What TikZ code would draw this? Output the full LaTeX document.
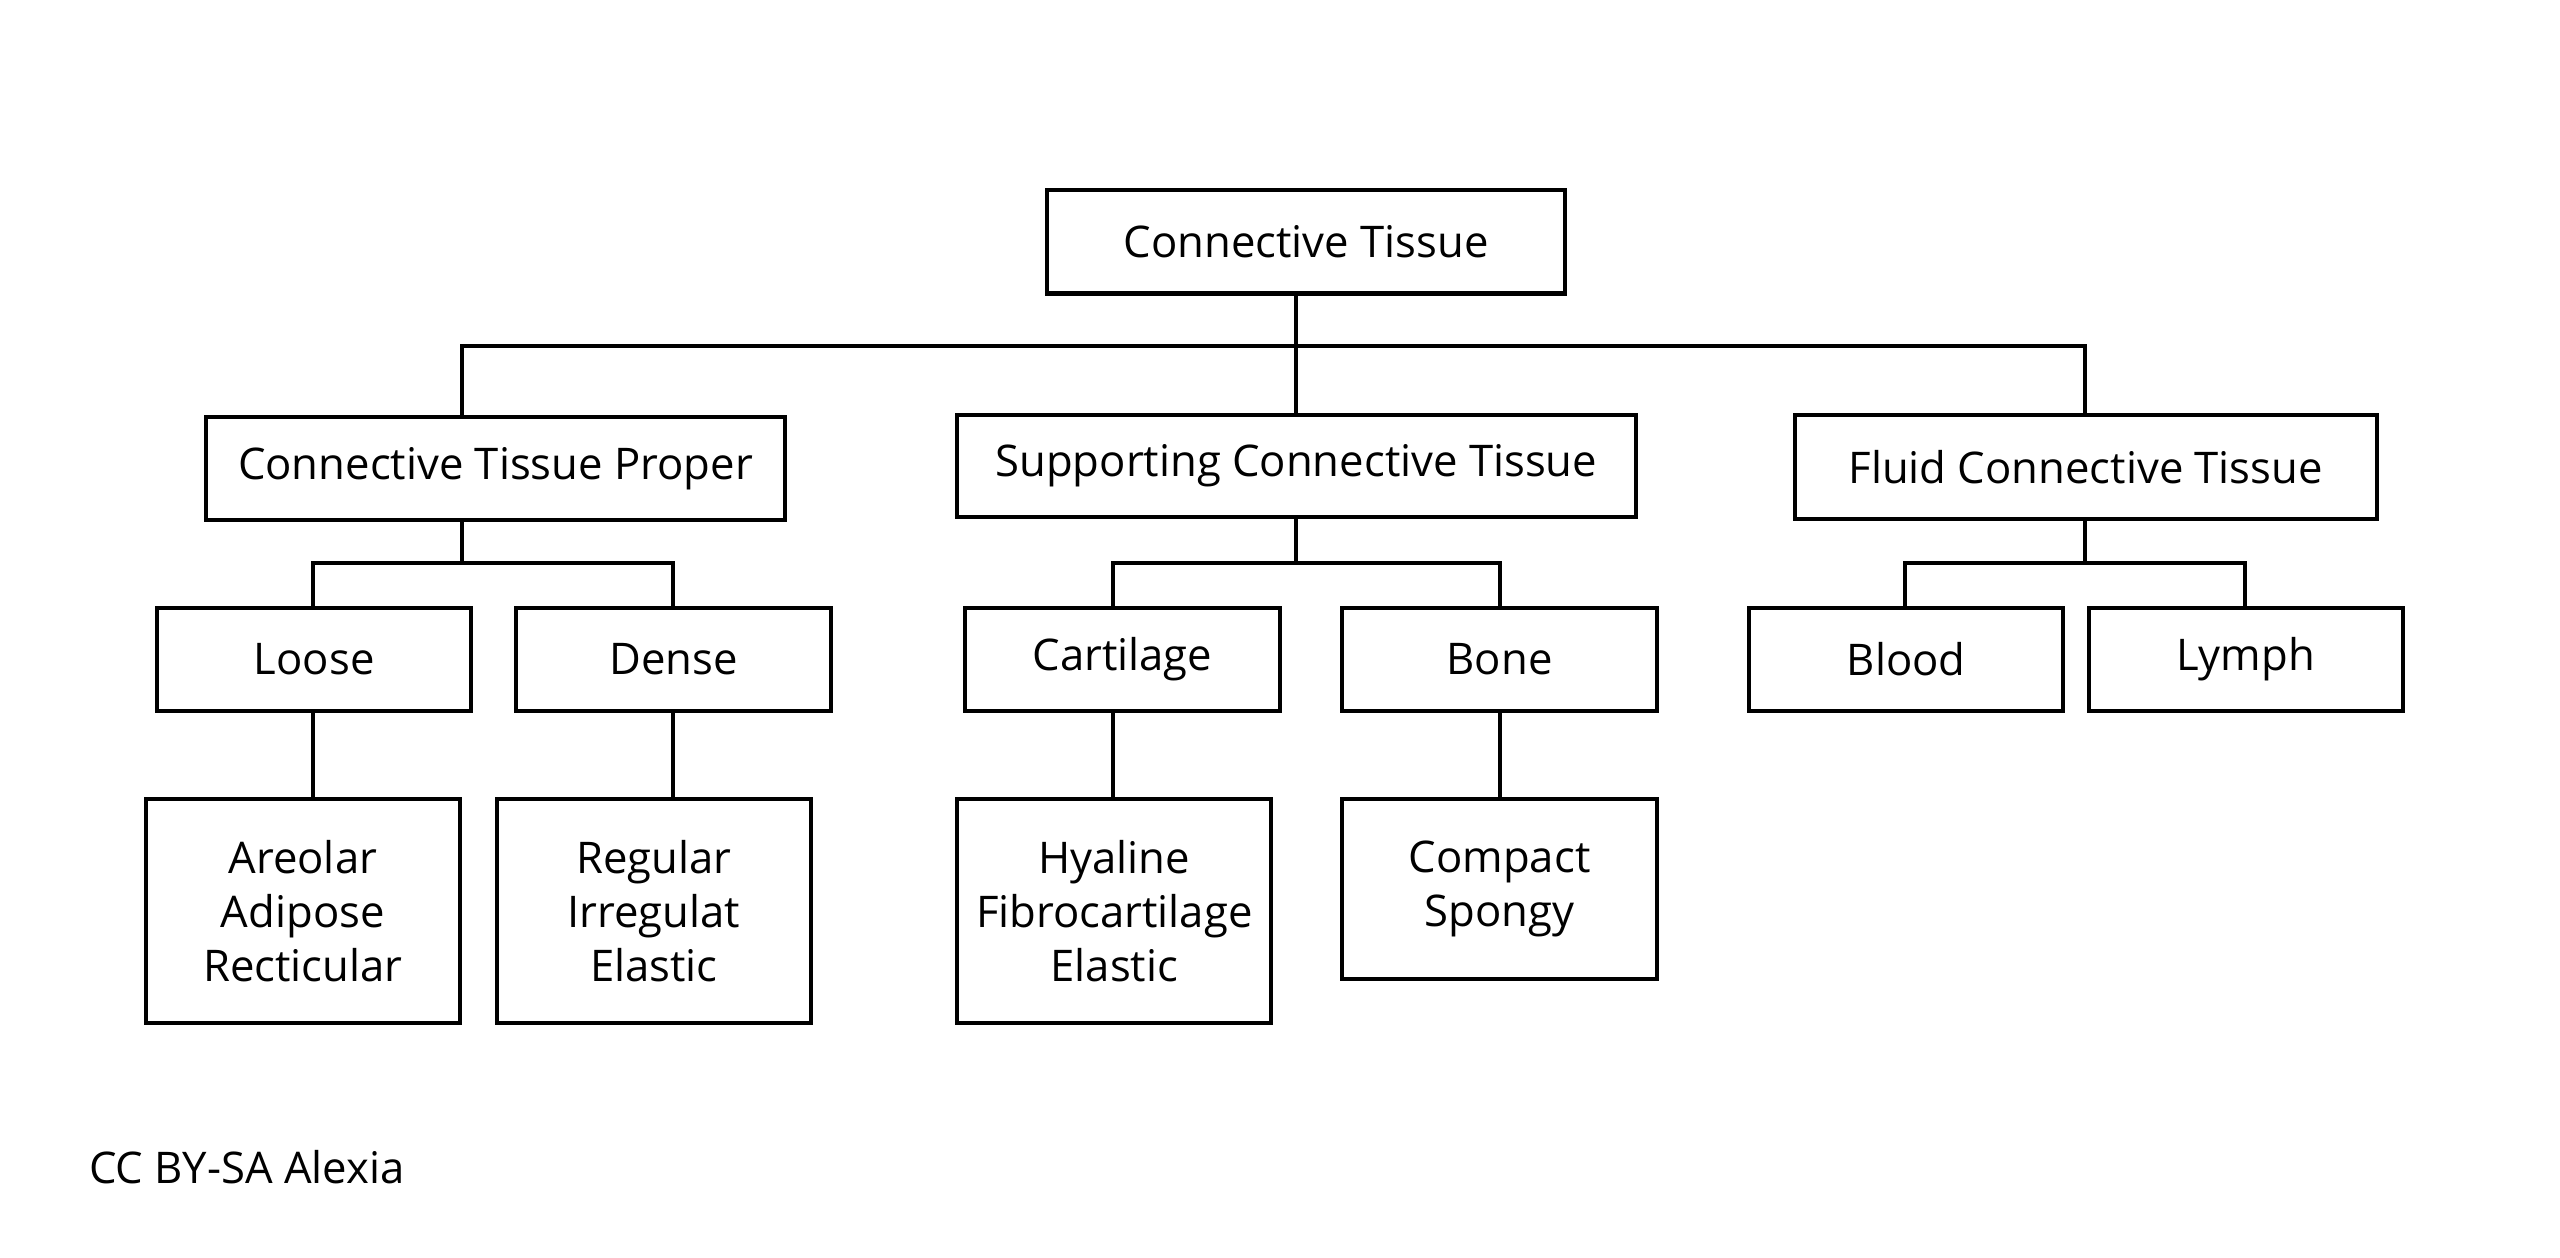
\documentclass[tikz,border=0pt]{standalone}
\usepackage{fontspec}
\setmainfont{Open Sans}
\begin{document}
\begin{tikzpicture}[x=0.01cm,y=-0.01cm,
  box/.style={draw,line width=0.7pt,inner sep=0pt,font=\fontsize{7.6}{9.4}\selectfont,align=center},
  ln/.style={line width=0.7pt}]
\useasboundingbox (0,0) rectangle (1568,770);
\newcommand{\bx}[6]{\node[box,minimum width=#4*0.01cm-0.7pt,minimum height=#5*0.01cm-0.7pt] (#1) at (#2,#3) {#6};}
\bx{root}{800}{148}{320}{66}{Connective Tissue}
\bx{ctp}{303.5}{287}{357}{66}{Connective Tissue Proper}
\bx{sct}{794}{285.5}{418}{65}{Supporting Connective Tissue}
\bx{fct}{1277.5}{286}{359}{66}{Fluid Connective Tissue}
\bx{loose}{192.5}{404}{195}{66}{Loose}
\bx{dense}{412.5}{404}{195}{66}{Dense}
\bx{cart}{687.5}{404}{195}{66}{Cartilage}
\bx{bone}{918.5}{404}{195}{66}{Bone}
\bx{blood}{1167.5}{404}{195}{66}{Blood}
\bx{lymph}{1375.5}{404}{195}{66}{Lymph}
\bx{areolar}{185.5}{558}{195}{140}{Areolar\\Adipose\\Recticular}
\bx{regular}{400.5}{558}{195}{140}{Regular\\Irregulat\\Elastic}
\bx{hyaline}{682.5}{558}{195}{140}{Hyaline\\Fibrocartilage\\Elastic}
\bx{compact}{918.5}{544.5}{195}{113}{Compact\\Spongy}
\node[anchor=west,font=\fontsize{7.6}{9}\selectfont,inner sep=0pt] (credit) at (54,715) {CC BY-SA Alexia};
% junction coordinates
\coordinate (r0) at (794,212);
\coordinate (c1) at (283,212);
\coordinate (c3) at (1277,212);
\coordinate (p1) at (283,345);
\coordinate (p2) at (794,345);
\coordinate (p3) at (1277,345);
\coordinate (l1) at (192,345); \coordinate (l2) at (412,345);
\coordinate (s1) at (682,345); \coordinate (s2) at (919,345);
\coordinate (f1) at (1167,345); \coordinate (f2) at (1375,345);
\draw[ln] (root.south -| r0) -- (sct.north -| r0);
\draw[ln] (ctp.north -| c1) -- (c1) -- (c3) -- (fct.north -| c3);
\draw[ln] (ctp.south -| p1) -- (p1);
\draw[ln] (loose.north -| l1) -- (l1) -- (l2) -- (dense.north -| l2);
\draw[ln] (sct.south -| p2) -- (p2);
\draw[ln] (cart.north -| s1) -- (s1) -- (s2) -- (bone.north -| s2);
\draw[ln] (fct.south -| p3) -- (p3);
\draw[ln] (blood.north -| f1) -- (f1) -- (f2) -- (lymph.north -| f2);
\draw[ln] (loose.south -| l1) -- (areolar.north -| l1);
\draw[ln] (dense.south -| l2) -- (regular.north -| l2);
\draw[ln] (cart.south -| s1) -- (hyaline.north -| s1);
\draw[ln] (bone.south -| s2) -- (compact.north -| s2);
\end{tikzpicture}
\end{document}
